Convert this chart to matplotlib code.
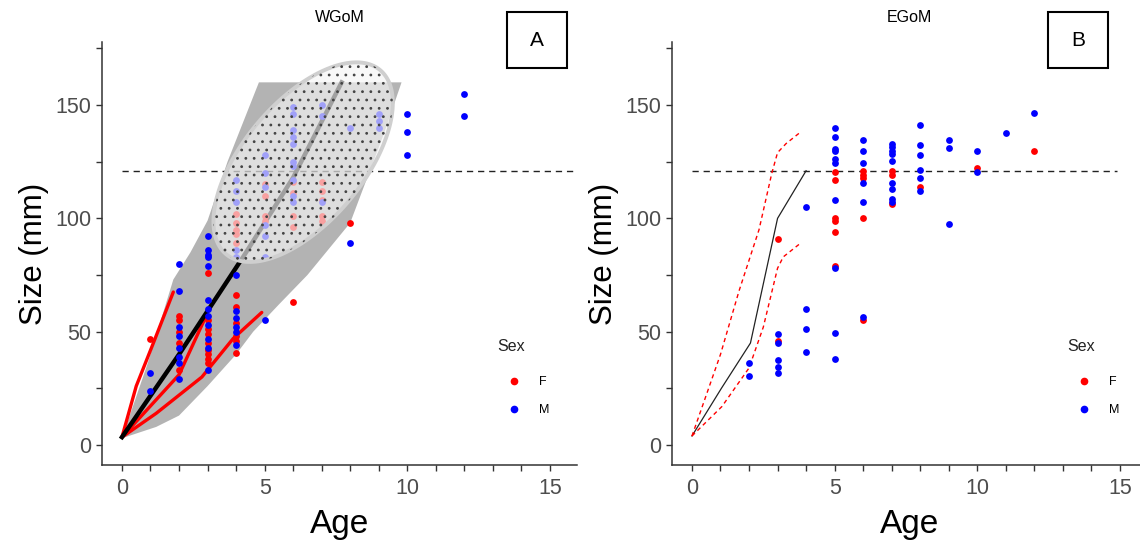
import numpy as np
import matplotlib
matplotlib.use("Agg")
import matplotlib.pyplot as plt
from matplotlib.patches import Rectangle
from matplotlib.lines import Line2D
from matplotlib.ticker import FixedLocator

plt.rcParams['font.family'] = ['Liberation Sans', 'DejaVu Sans']
plt.rcParams['hatch.linewidth'] = 0.8

# ---------------- panel A (WGoM) ----------------
a_f_age = [1, 2, 2, 2, 2, 2, 3, 3, 3, 3, 3, 3, 3, 3, 3,
           4, 4, 4, 4, 4, 4, 4, 4, 4, 4, 4,
           5, 5, 5, 5, 6, 6, 6, 6, 6, 7, 7, 7, 7, 7, 8]
a_f_size = [47, 57, 55, 50, 45, 33, 76, 55, 51, 49, 45, 42, 40, 38, 36,
            66, 61, 54, 48, 46, 40.5, 102, 98, 95, 93, 89,
            115, 110, 101, 99, 63, 116, 111, 101, 96, 116, 112, 108, 101, 99, 98]
a_m_age = [1, 1, 2, 2, 2, 2, 2, 2, 2, 2,
           3, 3, 3, 3, 3, 3, 3, 3, 3, 3, 3, 3,
           4, 4, 4, 4, 4, 4, 4, 4, 4, 4, 4,
           5, 5, 5, 5, 5, 5, 5,
           6, 6, 6, 6, 6, 6, 6, 6, 6, 6,
           7, 7, 7, 8, 8, 9, 9, 9, 10, 10, 10, 12, 12]
a_m_size = [32, 24, 80, 68, 52, 48, 43, 39, 36, 29,
            92, 86, 84, 83, 79, 64, 60, 57, 53, 47, 43, 33,
            83, 75, 59, 56, 52, 50, 44, 117, 112, 107, 86,
            83, 55, 128, 120, 114, 97, 92,
            149, 146, 139, 136, 133, 125, 123, 117, 110, 107,
            150, 145, 107, 89, 140, 146, 143, 140, 146, 138, 128, 155, 145]

# growth envelope (grey band)
a_band_age = [0, 1.2, 2.0, 3.0, 4.0, 4.6, 5.5, 6.5, 8.0, 9.2, 9.8,
              4.8, 3.7, 3.0, 2.4, 1.8, 0.9, 0]
a_band_size = [3, 8, 13, 26, 40, 50, 62, 75, 98, 138, 160,
               160, 125, 99, 85, 73, 36, 3]

# mean growth curve (black) and individual back-calculated curves (red)
a_mean_age = [0, 2, 4.3, 6, 7.7]
a_mean_size = [3.5, 40, 84, 118, 160]
a_red1_age = [0, 0.5, 1.1, 1.8]
a_red1_size = [3.5, 26, 45, 67.5]
a_red2_age = [0, 2.0, 2.95]
a_red2_size = [3.5, 31, 57]
a_red3_age = [0, 1.2, 2.8, 3.9, 4.9]
a_red3_size = [3.5, 14, 30, 47, 58.5]

# maturity ellipse: centre and the two semi-axis vectors (age, size)
ell_center = (6.35, 124.8)
ell_major = (2.70, 40.6)
ell_minor = (-1.61, 17.0)

# ---------------- panel B (EGoM) ----------------
b_f_age = [3, 3, 5, 5, 5, 5, 5, 5, 6, 6, 6, 6, 6, 7, 7, 7, 8, 10, 12]
b_f_size = [91, 46, 120.5, 117, 100, 99, 94, 79, 121, 119, 118, 100, 55,
            121, 119, 106.5, 114, 122, 129.5]
b_m_age = [2, 2, 3, 3, 3, 3, 3, 4, 4, 4, 4,
           5, 5, 5, 5, 5, 5, 5, 5, 5, 5,
           6, 6, 6, 6, 6, 6,
           7, 7, 7, 7, 7, 7, 7, 7, 7,
           8, 8, 8, 8, 8, 8, 9, 9, 9, 10, 10, 11, 12]
b_m_size = [36, 30.5, 49, 45, 37.5, 34.5, 32, 105, 60, 51, 41,
            140, 136, 130.5, 129.5, 126, 124.5, 108, 78, 49.5, 38,
            134.5, 129.5, 124.5, 115.5, 107, 56.5,
            133, 131.5, 129.5, 128.5, 125.5, 115.5, 113, 108.5, 107,
            141, 132.5, 128, 121.5, 118, 112, 134.5, 131, 97.5,
            129.5, 120.5, 137.5, 146.5]

b_mean_age = [0, 1.03, 2.05, 3.0, 4.0]
b_mean_size = [4, 25, 45, 100, 121]
b_up_age = [0, 1.0, 1.65, 2.35, 2.8, 3.0, 3.3, 3.8]
b_up_size = [4, 40, 68, 95, 120, 129, 133, 138]
b_lo_age = [0, 1.05, 2.0, 2.5, 3.0, 3.2, 3.8]
b_lo_size = [4, 17, 34, 52, 78, 83, 89]

size_at_maturity = 121

RED = '#FF0000'
BLUE = '#0000FF'
AXC = '#333333'

fig = plt.figure(figsize=(11.4, 5.48), dpi=100)
W, H = 1140, 548
axA = fig.add_axes([102 / W, 1 - 465 / H, 475 / W, 423 / H])
axB = fig.add_axes([672 / W, 1 - 465 / H, 475 / W, 423 / H])


def style(ax, title, hline_end):
    ax.set_xlim(-0.7, 15.95)
    ax.set_ylim(-8.8, 177.8)
    for s in ['top', 'right']:
        ax.spines[s].set_visible(False)
    for s in ['left', 'bottom']:
        ax.spines[s].set_color(AXC)
        ax.spines[s].set_linewidth(1.1)
    ax.set_xticks([0, 5, 10, 15])
    ax.set_yticks([0, 50, 100, 150])
    ax.xaxis.set_minor_locator(FixedLocator(list(range(0, 16))))
    ax.yaxis.set_minor_locator(FixedLocator([25, 75, 125, 175]))
    ax.tick_params(which='both', direction='out', length=4.5, width=1.0,
                   color=AXC, labelsize=15.5, labelcolor='#4D4D4D')
    ax.tick_params(axis='x', pad=5)
    ax.tick_params(axis='y', pad=3)
    ax.set_xlabel('Age', fontsize=24, labelpad=7)
    ax.set_ylabel('Size (mm)', fontsize=22.5, labelpad=5)
    ax.text(0.5, 1 + 24 / 423, title, transform=ax.transAxes,
            ha='center', va='center', fontsize=11.5)
    ax.hlines(size_at_maturity, 0, hline_end,
              colors='#222222', linestyles=(0, (4.5, 3.5)), lw=1.0, zorder=2)
    h = [Line2D([], [], ls='', marker='o', ms=4.5, mfc=RED, mec=RED),
         Line2D([], [], ls='', marker='o', ms=4.5, mfc=BLUE, mec=BLUE)]
    leg = ax.legend(h, ['F', 'M'], loc='upper left',
                    bbox_to_anchor=(0.834, 0.225), frameon=False,
                    fontsize=9, labelspacing=1.3,
                    handletextpad=1.2, borderpad=0, handlelength=1.6)
    leg.set_zorder(10)
    ax.text(0.832, 0.281, 'Sex', transform=ax.transAxes, ha='left',
            va='center', fontsize=11.5, color='#222222')


style(axA, 'WGoM', 15.9)
style(axB, 'EGoM', 14.9)

# panel A layers
axA.fill(a_band_age, a_band_size, color='#B3B3B3', lw=0, zorder=1)
axA.plot(a_red1_age, a_red1_size, color=RED, lw=2.4, zorder=3, solid_capstyle='round')
axA.plot(a_red2_age, a_red2_size, color=RED, lw=2.4, zorder=3, solid_capstyle='round')
axA.plot(a_red3_age, a_red3_size, color=RED, lw=2.4, zorder=3, solid_capstyle='round')
axA.plot(a_mean_age, a_mean_size, color='black', lw=3.2, zorder=3)
axA.scatter(a_f_age, a_f_size, s=24, color=RED, lw=0, zorder=4)
axA.scatter(a_m_age, a_m_size, s=24, color=BLUE, lw=0, zorder=4)

t = np.linspace(0, 2 * np.pi, 240)
ex = ell_center[0] + ell_major[0] * np.cos(t) + ell_minor[0] * np.sin(t)
ey = ell_center[1] + ell_major[1] * np.cos(t) + ell_minor[1] * np.sin(t)
axA.fill(ex, ey, facecolor=(0.96, 0.96, 0.96, 0.66), edgecolor='#CFCFCF', lw=2.8, zorder=5)
axA.fill(ex, ey, facecolor='none', edgecolor='#444444', hatch='..', lw=0, zorder=6)

# panel B layers
axB.plot(b_mean_age, b_mean_size, color='#222222', lw=0.9, zorder=3)
axB.plot(b_up_age, b_up_size, color=RED, lw=1.0, ls=(0, (3, 2.5)), zorder=3)
axB.plot(b_lo_age, b_lo_size, color=RED, lw=1.0, ls=(0, (3, 2.5)), zorder=3)
axB.scatter(b_f_age, b_f_size, s=24, color=RED, lw=0, zorder=4)
axB.scatter(b_m_age, b_m_size, s=24, color=BLUE, lw=0, zorder=4)

# panel letters
for x0, letter in [(507, 'A'), (1048, 'B')]:
    fig.add_artist(Rectangle((x0 / W, 1 - 68 / H), 60 / W, 56 / H,
                             transform=fig.transFigure, fill=False,
                             ec='black', lw=1.5))
    fig.text((x0 + 30) / W, 1 - 40 / H, letter, ha='center', va='center',
             fontsize=15)

fig.savefig('out.png', dpi=100)
